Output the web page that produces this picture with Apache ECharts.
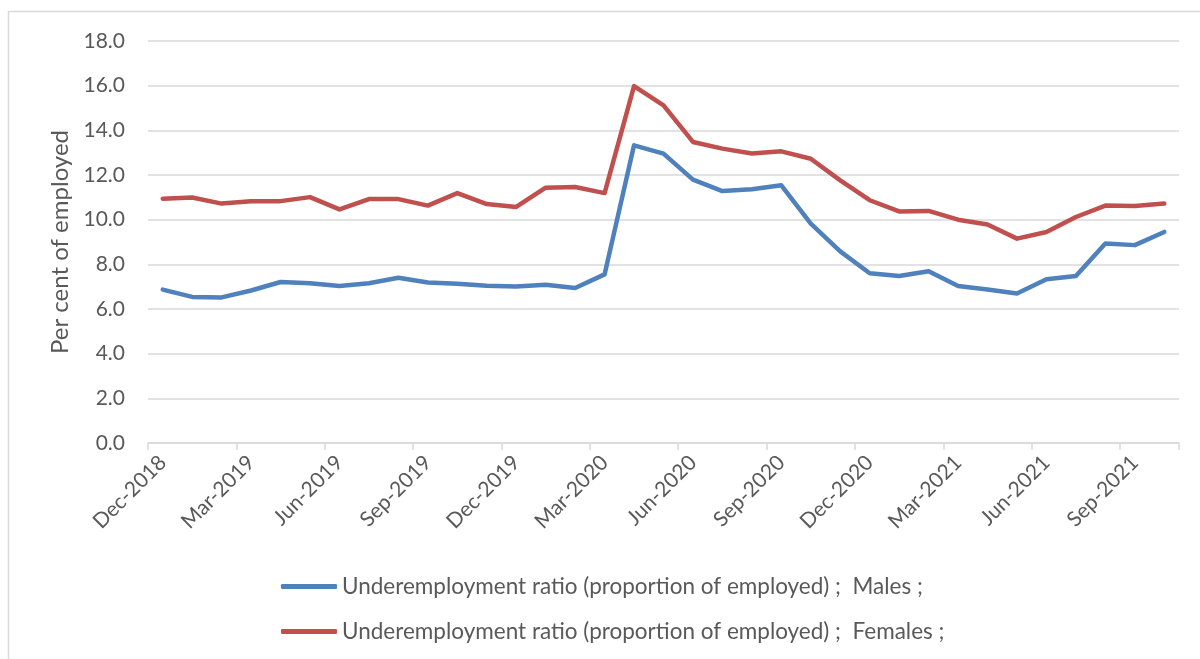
<!DOCTYPE html>
<html>
<head>
<meta charset="utf-8">
<script src="https://cdn.jsdelivr.net/npm/echarts@6/dist/echarts.min.js"></script>
<style>
html,body{margin:0;padding:0;background:#fff;}
#chart{width:1200px;height:659px;}
</style>
</head>
<body>
<div id="chart"></div>
<script>
const categories = ["Dec-2018","Jan-2019","Feb-2019","Mar-2019","Apr-2019","May-2019","Jun-2019","Jul-2019","Aug-2019","Sep-2019","Oct-2019","Nov-2019",
  "Dec-2019","Jan-2020","Feb-2020","Mar-2020","Apr-2020","May-2020","Jun-2020","Jul-2020","Aug-2020","Sep-2020","Oct-2020","Nov-2020",
  "Dec-2020","Jan-2021","Feb-2021","Mar-2021","Apr-2021","May-2021","Jun-2021","Jul-2021","Aug-2021","Sep-2021","Oct-2021"];
const males = [6.87, 6.54, 6.52, 6.83, 7.21, 7.15, 7.03, 7.15, 7.40, 7.19, 7.13, 7.04,
  7.01, 7.09, 6.94, 7.55, 13.33, 12.96, 11.79, 11.28, 11.36, 11.54, 9.82, 8.58,
  7.60, 7.48, 7.69, 7.03, 6.87, 6.69, 7.33, 7.48, 8.93, 8.86, 9.45];
const females = [10.94, 10.99, 10.72, 10.82, 10.83, 11.01, 10.46, 10.92, 10.92, 10.63, 11.19, 10.70,
  10.57, 11.43, 11.46, 11.19, 15.98, 15.12, 13.48, 13.18, 12.96, 13.06, 12.73, 11.76,
  10.87, 10.37, 10.39, 10.00, 9.78, 9.15, 9.45, 10.12, 10.63, 10.61, 10.72];
const seriesNames = ["Underemployment ratio (proportion of employed) ;  Males ;",
  "Underemployment ratio (proportion of employed) ;  Females ;"];
const yAxisTitle = "Per cent of employed";

const FONT = "Lato, 'Open Sans', sans-serif";
const TXT = "#595959";
const GRID = "#d9d9d9";

const chart = echarts.init(document.getElementById('chart'), null, {renderer: 'canvas'});
chart.setOption({
  animation: false,
  backgroundColor: '#ffffff',
  textStyle: {fontFamily: FONT},
  graphic: [{
    type: 'rect',
    shape: {x: 8.5, y: 11.5, width: 1300, height: 800},
    style: {fill: 'none', stroke: GRID, lineWidth: 1.5},
    silent: true, z: -10
  }],
  grid: {left: 148, right: 21, top: 41, bottom: 216, containLabel: false},
  legend: {
    orient: 'vertical',
    left: 276,
    top: 570,
    icon: 'roundRect',
    itemWidth: 56,
    itemHeight: 5,
    itemGap: 22,
    textStyle: {fontFamily: FONT, fontSize: 22.5, color: TXT, lineHeight: 23},
    data: seriesNames
  },
  xAxis: {
    type: 'category',
    data: categories,
    boundaryGap: true,
    axisLine: {show: true, lineStyle: {color: GRID, width: 1.5}},
    axisTick: {show: true, interval: 2, length: 7, lineStyle: {color: GRID, width: 1.5}},
    axisLabel: {interval: 2, rotate: 45, margin: 16, fontFamily: FONT, fontSize: 21, color: TXT}
  },
  yAxis: {
    type: 'value',
    min: 0, max: 18, interval: 2,
    name: yAxisTitle,
    nameLocation: 'middle',
    nameRotate: 90,
    nameGap: 74,
    nameTextStyle: {fontFamily: FONT, fontSize: 24, color: TXT},
    axisLine: {show: false},
    axisTick: {show: false},
    axisLabel: {margin: 23, fontFamily: FONT, fontSize: 21, color: TXT, formatter: v => v.toFixed(1)},
    splitLine: {lineStyle: {color: GRID, width: 1.5}}
  },
  series: [
    {name: seriesNames[0], type: 'line', data: males, symbol: 'none',
     lineStyle: {color: '#4f81bd', width: 4.5, cap: 'round', join: 'round'},
     itemStyle: {color: '#4f81bd'}},
    {name: seriesNames[1], type: 'line', data: females, symbol: 'none',
     lineStyle: {color: '#c0504d', width: 4.5, cap: 'round', join: 'round'},
     itemStyle: {color: '#c0504d'}}
  ]
});
</script>
</body>
</html>
